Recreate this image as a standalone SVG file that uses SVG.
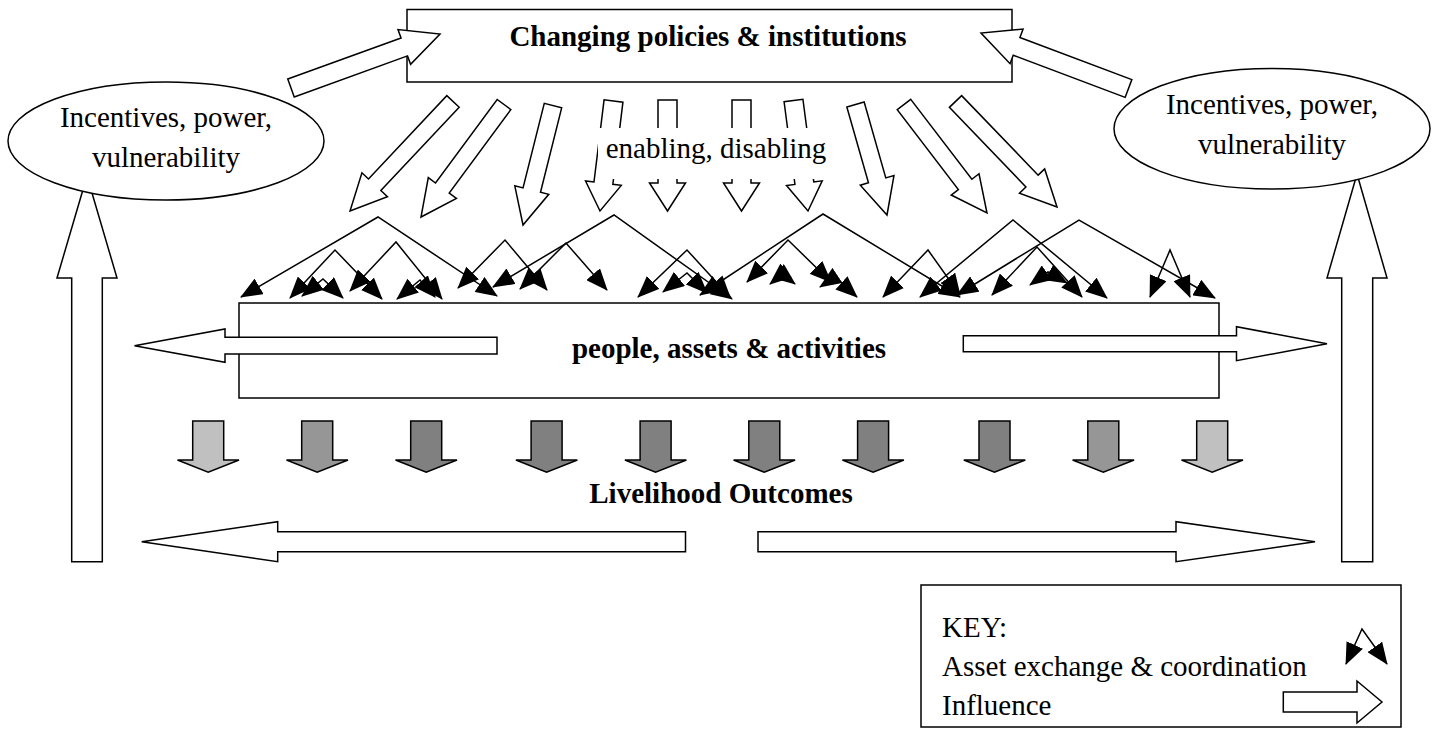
<svg xmlns="http://www.w3.org/2000/svg" width="1440" height="729" viewBox="0 0 1440 729">
<defs>
<style>
.blk{fill:#fff;stroke:#000;stroke-width:1.5;stroke-linejoin:miter}
.g1{fill:#c0c0c0;stroke:#000;stroke-width:1.5}
.g2{fill:#969696;stroke:#000;stroke-width:1.5}
.g3{fill:#808080;stroke:#000;stroke-width:1.5}
.net{fill:none;stroke:#000;stroke-width:1.5;marker-start:url(#ah);marker-end:url(#ah)}
text{font-family:"Liberation Serif","Times New Roman",serif;font-size:29px;fill:#000}
.b{font-weight:bold}
.c{text-anchor:middle}
</style>
<marker id="ah" viewBox="0 0 22 18" refX="21" refY="9" markerWidth="22" markerHeight="18" markerUnits="userSpaceOnUse" orient="auto-start-reverse">
<path d="M0,0 L22,9 L0,18 z" fill="#000"/>
</marker>
</defs>
<rect width="1440" height="729" fill="#fff"/>

<g id="feedback-left">
<polygon class="blk" points="71.7,561.7 71.7,278 57,278 87,176 117,278 102.3,278 102.3,561.7"/>
</g>
<g id="feedback-right">
<polygon class="blk" points="1341.7,561.7 1341.7,278 1327,278 1357,174 1387,278 1372.7,278 1372.7,561.7"/>
</g>

<g id="ellipse-left">
<ellipse class="blk" cx="166" cy="141" rx="158" ry="59"/>
<text class="c" x="166" y="127">Incentives, power,</text>
<text class="c" x="166" y="167">vulnerability</text>
</g>
<g id="ellipse-right">
<ellipse class="blk" cx="1272" cy="128.7" rx="158" ry="60.3"/>
<text class="c" x="1272" y="114">Incentives, power,</text>
<text class="c" x="1272" y="154">vulnerability</text>
</g>

<g id="policies">
<rect class="blk" x="407" y="9.5" width="605" height="72.5"/>
<text class="b c" x="708" y="46">Changing policies &amp; institutions</text>
</g>

<g id="influence-arrows">
<polygon class="blk" transform="translate(291,88) rotate(-19.92)" points="0,-9.5 120.5,-9.5 120.5,-18.5 158.5,0 120.5,18.5 120.5,9.5 0,9.5"/>
<polygon class="blk" transform="translate(1128.5,88.5) rotate(-159.38)" points="0,-9.5 119.6,-9.5 119.6,-18.5 157.6,0 119.6,18.5 119.6,9.5 0,9.5"/>
<polygon class="blk" transform="translate(453,101.5) rotate(133.25)" points="0,-8.5 114.3,-8.5 114.3,-17.5 150.3,0 114.3,17.5 114.3,8.5 0,8.5"/>
<polygon class="blk" transform="translate(504,104.5) rotate(126.42)" points="0,-8.5 103.8,-8.5 103.8,-17.5 139.8,0 103.8,17.5 103.8,8.5 0,8.5"/>
<polygon class="blk" transform="translate(553,105.5) rotate(104.09)" points="0,-9 87.2,-9 87.2,-17.5 123.2,0 87.2,17.5 87.2,9 0,9"/>
<polygon class="blk" transform="translate(613.5,101) rotate(97)" points="0,-9.5 82.8,-9.5 82.8,-18 110.8,0 82.8,18 82.8,9.5 0,9.5"/>
<polygon class="blk" transform="translate(667.5,100) rotate(90)" points="0,-9.5 83,-9.5 83,-18 111,0 83,18 83,9.5 0,9.5"/>
<polygon class="blk" transform="translate(741.5,100) rotate(90)" points="0,-9.5 83,-9.5 83,-18 111,0 83,18 83,9.5 0,9.5"/>
<polygon class="blk" transform="translate(793.5,100.5) rotate(82.52)" points="0,-9.5 83.4,-9.5 83.4,-18 111.4,0 83.4,18 83.4,9.5 0,9.5"/>
<polygon class="blk" transform="translate(855.5,104.5) rotate(74.09)" points="0,-9 78.9,-9 78.9,-17.5 114.9,0 78.9,17.5 78.9,9 0,9"/>
<polygon class="blk" transform="translate(904,104.5) rotate(52.59)" points="0,-8.5 100.6,-8.5 100.6,-17.5 136.6,0 100.6,17.5 100.6,8.5 0,8.5"/>
<polygon class="blk" transform="translate(955.5,101.5) rotate(46.1)" points="0,-8.5 110.4,-8.5 110.4,-17.5 146.4,0 110.4,17.5 110.4,8.5 0,8.5"/>
</g>

<g id="enabling-label">
<rect x="598" y="128" width="234" height="51" fill="#fff"/>
<text class="c" x="716" y="158">enabling, disabling</text>
</g>

<g id="connectors">
<path class="net" d="M241,297 L378,217 L497,296"/>
<path class="net" d="M290,298 L335,250 L382,299"/>
<path class="net" d="M302,296 L323,279 L343,298"/>
<path class="net" d="M350,291 L396,242 L442,299"/>
<path class="net" d="M397,299 L420,280 L435,297"/>
<path class="net" d="M458,288 L505,240 L547,290"/>
<path class="net" d="M493,287 L614,215 L732,299"/>
<path class="net" d="M520,289 L566,243 L607,290"/>
<path class="net" d="M638,297 L687,250 L730,297"/>
<path class="net" d="M663,292 L687,273 L707,293"/>
<path class="net" d="M700,295 L823,214 L960,297"/>
<path class="net" d="M747,282 L788,240 L831,282"/>
<path class="net" d="M770,284 L782,274 L795,284"/>
<path class="net" d="M820,287 L835,277 L857,297"/>
<path class="net" d="M883,297 L928,250 L960,295"/>
<path class="net" d="M920,297 L1013,220 L1107,298"/>
<path class="net" d="M957,295 L1079,220 L1215,298"/>
<path class="net" d="M992,295 L1037,247 L1082,297"/>
<path class="net" d="M1030,285 L1048,272 L1067,283"/>
<path class="net" d="M1150,297 L1170,250 L1190,297"/>
</g>

<g id="people">
<rect class="blk" x="239" y="303" width="980" height="95"/>
<polygon class="blk" points="497,337.3 225,337.3 225,329 134.5,345.7 225,362.3 225,354 497,354"/>
<polygon class="blk" points="963.3,335.7 1236.5,335.7 1236.5,326.7 1327,343.7 1236.5,360.7 1236.5,351.7 963.3,351.7"/>
<text class="b c" x="729" y="358">people, assets &amp; activities</text>
</g>

<g id="outcome-arrows">
<polygon class="g1" points="192.7,421 223.7,421 223.7,460 239,460 208.2,472.3 177.5,460 192.7,460"/>
<polygon class="g2" points="301.7,421 332.7,421 332.7,460 348,460 317.2,472.3 286.5,460 301.7,460"/>
<polygon class="g3" points="410.7,421 441.7,421 441.7,460 457,460 426.2,472.3 395.5,460 410.7,460"/>
<polygon class="g3" points="531.1,421 562.1,421 562.1,460 577.4,460 546.6,472.3 515.9,460 531.1,460"/>
<polygon class="g3" points="640.1,421 671.1,421 671.1,460 686.4,460 655.6,472.3 624.9,460 640.1,460"/>
<polygon class="g3" points="748.8,421 779.8,421 779.8,460 795.1,460 764.3,472.3 733.6,460 748.8,460"/>
<polygon class="g3" points="857.6,421 888.6,421 888.6,460 903.9,460 873.1,472.3 842.4,460 857.6,460"/>
<polygon class="g3" points="979,421 1010,421 1010,460 1025.3,460 994.5,472.3 963.8,460 979,460"/>
<polygon class="g2" points="1087.8,421 1118.8,421 1118.8,460 1134.1,460 1103.3,472.3 1072.6,460 1087.8,460"/>
<polygon class="g1" points="1196.7,421 1227.7,421 1227.7,460 1243,460 1212.2,472.3 1181.5,460 1196.7,460"/>
</g>

<g id="outcomes">
<text class="b c" x="721" y="503">Livelihood Outcomes</text>
<polygon class="blk" points="685.5,531.7 277.7,531.7 277.7,521.7 141.7,541.7 277.7,561.7 277.7,551.7 685.5,551.7"/>
<polygon class="blk" points="758,531.7 1176,531.7 1176,521.7 1315,541.7 1176,561.7 1176,551.7 758,551.7"/>
</g>

<g id="key">
<rect class="blk" x="921" y="585" width="480" height="142"/>
<text x="942" y="637">KEY:</text>
<text x="942" y="676">Asset exchange &amp; coordination</text>
<text x="942" y="715">Influence</text>
<path class="net" d="M1346,664 L1362,629 L1387,664"/>
<polygon class="blk" points="1283.3,692 1357,692 1357,681 1382,702 1357,723 1357,712 1283.3,712"/>
</g>
</svg>
